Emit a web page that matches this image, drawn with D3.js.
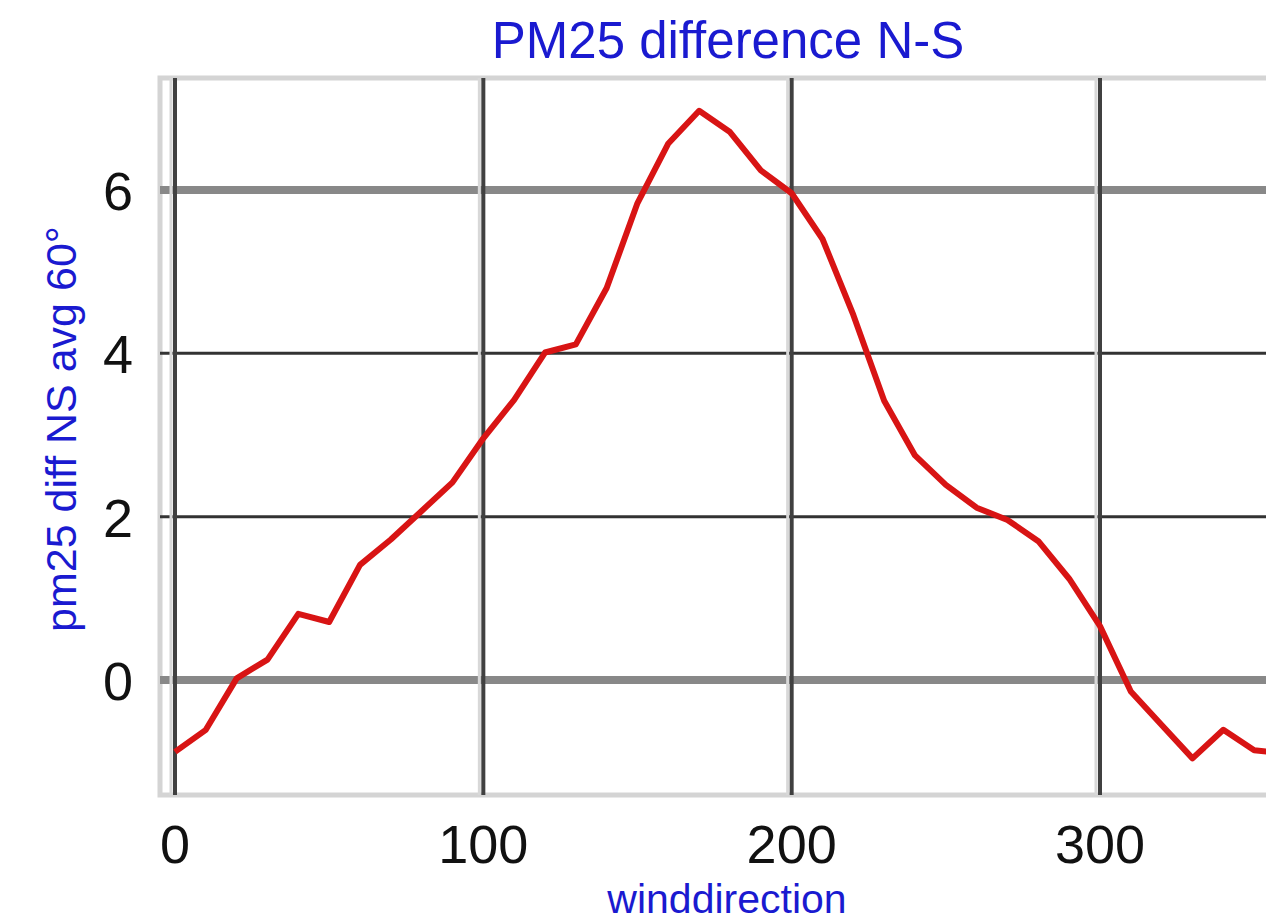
<!DOCTYPE html>
<html>
<head>
<meta charset="utf-8">
<script src="https://cdn.jsdelivr.net/npm/d3@7"></script>
<style>
  body { margin: 0; background: #fff; }
  svg { display: block; font-family: Arial, "Liberation Sans", sans-serif; }
</style>
</head>
<body>
<div id="chart"></div>
<script>
// wind direction (degrees) and pm25 N-S difference, 60 deg average
var directions = [0, 10, 20, 30, 40, 50, 60, 70, 80, 90, 100, 110, 120, 130, 140, 150, 160, 170, 180,
  190, 200, 210, 220, 230, 240, 250, 260, 270, 280, 290, 300, 310, 320, 330, 340, 350, 360];
var pm25Diff = [-0.88, -0.61, 0.02, 0.25, 0.81, 0.71, 1.41, 1.72, 2.07, 2.42, 2.96, 3.43, 4.01, 4.11, 4.8, 5.84,
  6.57, 6.97, 6.71, 6.24, 5.96, 5.4, 4.47, 3.42, 2.75, 2.39, 2.11, 1.96, 1.7, 1.24, 0.66, -0.14,
  -0.55, -0.96, -0.61, -0.86, -0.9];
var xTicks = [0, 100, 200, 300];
var yTicks = [0, 2, 4, 6];
var majorY = [0, 6];

var width = 1266, height = 924;
var plot = { left: 160, top: 78, right: 1300, bottom: 795 };

var svg = d3.select("#chart").append("svg")
  .attr("width", width)
  .attr("height", height);

var x = d3.scaleLinear().domain([0, 300]).range([175, 1100]);
var y = d3.scaleLinear().domain([0, 6]).range([680, 190]);

// plot frame
svg.append("rect")
  .attr("x", plot.left)
  .attr("y", plot.top)
  .attr("width", plot.right - plot.left)
  .attr("height", plot.bottom - plot.top)
  .attr("fill", "#fff")
  .attr("stroke", "#d4d4d4")
  .attr("stroke-width", 5);

// horizontal gridlines
svg.append("g").selectAll("line")
  .data(yTicks)
  .enter().append("line")
  .attr("x1", plot.left)
  .attr("x2", plot.right)
  .attr("y1", d => y(d))
  .attr("y2", d => y(d))
  .attr("stroke", d => majorY.includes(d) ? "#888" : "#333")
  .attr("stroke-width", d => majorY.includes(d) ? 8 : 3);

// vertical gridlines with their light shadow
var vg = svg.append("g");
vg.selectAll(".shadow")
  .data(xTicks)
  .enter().append("line")
  .attr("class", "shadow")
  .attr("x1", d => x(d) - 4)
  .attr("x2", d => x(d) - 4)
  .attr("y1", plot.top)
  .attr("y2", plot.bottom)
  .attr("stroke", "#d8d8d8")
  .attr("stroke-width", 3);
vg.selectAll(".grid")
  .data(xTicks)
  .enter().append("line")
  .attr("class", "grid")
  .attr("x1", d => x(d))
  .attr("x2", d => x(d))
  .attr("y1", plot.top)
  .attr("y2", plot.bottom)
  .attr("stroke", "#404040")
  .attr("stroke-width", 4);

// data line
var line = d3.line()
  .x((d, i) => x(directions[i]))
  .y(d => y(d));

svg.append("path")
  .datum(pm25Diff)
  .attr("d", line)
  .attr("fill", "none")
  .attr("stroke", "#d81414")
  .attr("stroke-width", 6)
  .attr("stroke-linejoin", "round");

// tick labels
svg.append("g").selectAll("text")
  .data(xTicks)
  .enter().append("text")
  .attr("x", d => x(d))
  .attr("y", 863)
  .attr("text-anchor", "middle")
  .attr("font-size", "54px")
  .attr("fill", "#111")
  .text(d => d);

svg.append("g").selectAll("text")
  .data(yTicks)
  .enter().append("text")
  .attr("x", 133)
  .attr("y", d => y(d) + 20)
  .attr("text-anchor", "end")
  .attr("font-size", "54px")
  .attr("fill", "#111")
  .text(d => d);

// title and axis labels
svg.append("text")
  .attr("x", 728)
  .attr("y", 58)
  .attr("text-anchor", "middle")
  .attr("font-size", "51px")
  .attr("fill", "#1a1ad0")
  .text("PM25 difference N-S");

svg.append("text")
  .attr("x", 727)
  .attr("y", 913)
  .attr("text-anchor", "middle")
  .attr("font-size", "41px")
  .attr("fill", "#1a1ad0")
  .text("winddirection");

svg.append("text")
  .attr("transform", "translate(76,429) rotate(-90)")
  .attr("text-anchor", "middle")
  .attr("font-size", "43px")
  .attr("fill", "#1a1ad0")
  .text("pm25 diff NS avg 60°");
</script>
</body>
</html>
